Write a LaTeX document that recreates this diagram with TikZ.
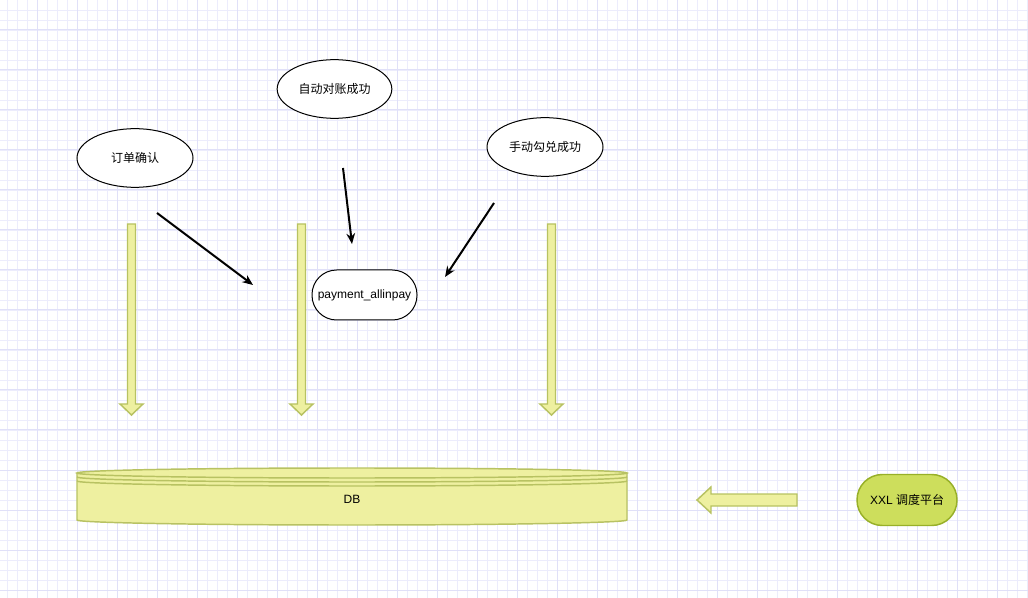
\documentclass[tikz,border=0pt]{standalone}
\usepackage{fontspec}
\setmainfont{Liberation Sans}
\newfontfamily\cjk{Noto Sans CJK SC}
\usepackage{tikz}
\usetikzlibrary{arrows.meta,shapes.geometric}

\definecolor{gridminor}{RGB}{236,236,252}
\definecolor{gridmajor}{RGB}{224,224,248}
\definecolor{dbfill}{RGB}{238,240,160}
\definecolor{dbline}{RGB}{184,194,98}
\definecolor{xxlfill}{RGB}{205,222,92}
\definecolor{xxlline}{RGB}{152,176,40}

\begin{document}
\begin{tikzpicture}[x=0.75pt,y=-0.75pt,
    every node/.style={font=\fontsize{9pt}{11pt}\selectfont},
    event/.style={ellipse,draw,line width=0.75pt,fill=white,inner sep=0pt,
      minimum width=87pt,minimum height=44pt},
    pill/.style={draw,line width=0.75pt,fill=white,inner sep=0pt,
      minimum width=78.75pt,minimum height=37.5pt,rounded corners=18.5pt},
    flow/.style={-{Stealth[length=8pt,width=6.5pt]},line width=1.5pt},
    bigarrow/.style={fill=dbfill,draw=dbline,line width=1.1pt,line join=miter}]
    \useasboundingbox (0,0) rectangle (1028,598);
    \fill[white] (0,0) rectangle (1028,598);

    % grid
    \foreach \x in {7,17,...,1027}
      \draw[gridminor,line width=0.6pt] (\x,0) -- (\x,598);
    \foreach \y in {10,20,...,590}
      \draw[gridminor,line width=0.6pt] (0,\y) -- (1028,\y);
    \foreach \x in {37,77,...,1027}
      \draw[gridmajor,line width=0.75pt] (\x,0) -- (\x,598);
    \foreach \y in {30,70,...,590}
      \draw[gridmajor,line width=0.75pt] (0,\y) -- (1028,\y);

    % events
    \node[event] (order) at (135,158) {\cjk 订单确认};
    \node[event,minimum width=86pt] (autocheck) at (334.5,89) {\cjk 自动对账成功};
    \node[event] (manual) at (545,147) {\cjk 手动勾兑成功};

    % payment table
    \node[pill] (payment) at (364.5,295) {payment\_allinpay};

    % loose arrows towards the table
    \coordinate (o1) at (157,213);  \coordinate (o2) at (253,285);
    \coordinate (a1) at (343,168);  \coordinate (a2) at (352,244);
    \coordinate (m1) at (494,203);  \coordinate (m2) at (445,277);
    \draw[flow] (o1) -- (o2);
    \draw[flow] (a1) -- (a2);
    \draw[flow] (m1) -- (m2);

    % block arrows down to the DB
    \foreach \cx in {131.5,301.5,551.5}
      \draw[bigarrow] (\cx-4,224) -- (\cx+4,224) -- (\cx+4,404) -- (\cx+11.5,404)
        -- (\cx,415) -- (\cx-11.5,404) -- (\cx-4,404) -- cycle;

    % DB (datastore)
    \fill[dbfill] (77,473) rectangle (627,520);
    \fill[dbfill] (352,473) ellipse [x radius=206.25pt, y radius=3.75pt];
    \fill[dbfill] (352,520) ellipse [x radius=206.25pt, y radius=3.75pt];
    \draw[dbline,line width=1.1pt] (77,473) -- (77,520)
      arc[start angle=180, end angle=360, x radius=206.25pt, y radius=3.75pt]
      -- (627,473);
    \draw[dbline,line width=1.1pt] (352,473) ellipse [x radius=206.25pt, y radius=3.75pt];
    \draw[dbline,line width=1.1pt] (77,477)
      arc[start angle=180, end angle=360, x radius=206.25pt, y radius=3.75pt];
    \draw[dbline,line width=1.1pt] (77,481)
      arc[start angle=180, end angle=360, x radius=206.25pt, y radius=3.75pt];
    \node (db) at (352,499) {DB};

    % scheduler
    \node[pill,fill=xxlfill,draw=xxlline,line width=1.1pt,minimum width=75pt,
      minimum height=38.25pt,rounded corners=19pt] (xxl) at (907,500) {XXL {\cjk 调度平台}};

    % block arrow from scheduler to DB
    \draw[bigarrow] (797,494) -- (797,506) -- (711,506) -- (711,513) -- (697,500)
      -- (711,487) -- (711,494) -- cycle;
  \end{tikzpicture}
\end{document}
